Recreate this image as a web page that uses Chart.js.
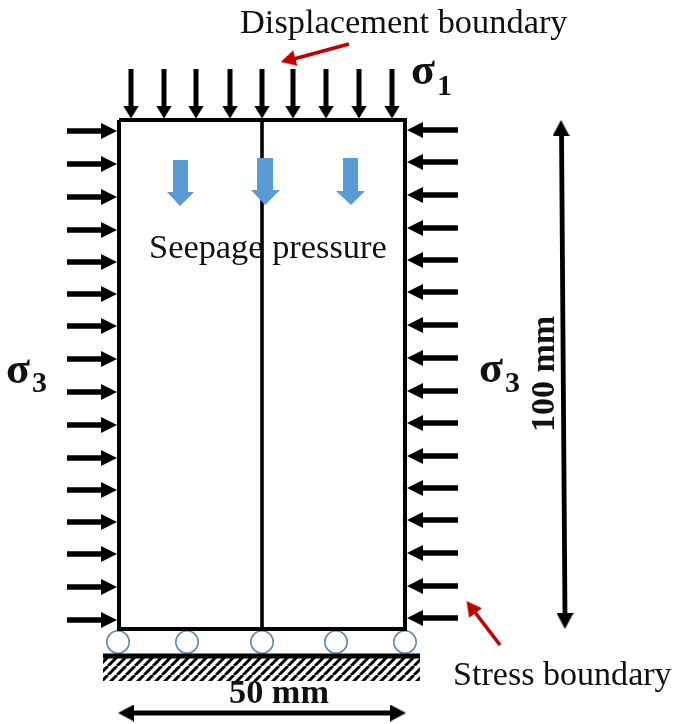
<!DOCTYPE html>
<html>
<head>
<meta charset="utf-8">
<title>Boundary conditions</title>
<script src="https://cdn.jsdelivr.net/npm/chart.js@4"></script>
<style>
  html, body { margin: 0; padding: 0; background: #fff; }
  canvas { display: block; filter: blur(0.45px); }
</style>
</head>
<body>
<canvas id="esquema" width="685" height="724"></canvas>
<script>
// Coordenadas (escala 0-685 / 0-724)
const topArrowX = [131, 164, 196, 230, 262, 293, 326, 359, 392];
const leftArrowY = [131, 164, 197, 230, 262, 294, 326, 359, 392, 425, 458, 490, 522, 554, 587, 620];
const rightArrowY = [130, 162, 195, 228, 260, 292, 325, 358, 391, 423, 456, 488, 520, 553, 586, 618];
const rollerX = [118, 187, 262, 336, 405];
const rollerY = [642, 642, 642, 642, 642];

const boxX = [119, 405, 405, 119, 119];
const boxY = [120, 120, 629, 629, 120];
const crackX = [262, 262];
const crackY = [120, 629];
const groundX = [103, 420];
const groundY = [656, 656];

const seepageLeftX = [173, 188, 188, 194, 180, 167, 173, 173];
const seepageLeftY = [160, 160, 192, 192, 206, 192, 192, 160];
const seepageMidX = [257, 273, 273, 280, 265, 251, 257, 257];
const seepageMidY = [158, 158, 190, 190, 205, 190, 190, 158];
const seepageRightX = [343, 358, 358, 365, 351, 336, 343, 343];
const seepageRightY = [158, 158, 191, 191, 205, 191, 191, 158];

const redTopX = [349, 290];
const redTopY = [44, 60];
const redBottomX = [500, 474];
const redBottomY = [645, 611];
const redHeadX = [288, 471];
const redHeadY = [60, 607];
const redHeadRot = [255, -37];

const dimVerticalX = [561.5, 565];
const dimVerticalY = [130, 617];
const dimHorizontalX = [128, 396];
const dimHorizontalY = [713, 713];

const labelText = ['Displacement boundary', 'Seepage pressure', 'Stress boundary', '50 mm', '100 mm',
    'σ', '1', 'σ', '3', 'σ', '3'];
const labelX = [240, 149, 453, 229, 554, 411, 437, 6, 32, 479, 505];
const labelY = [33, 258, 685, 703, 432, 84, 95, 383, 392, 382, 392];
const labelFont = ['34.4px', '34.4px', '34.1px', 'bold 34.3px', 'bold 34px', 'bold 44px', 'bold 30px',
    'bold 44px', 'bold 30px', 'bold 44px', 'bold 30px'];
const labelRot = [0, 0, 0, 0, -90, 0, 0, 0, 0, 0, 0];

const negro = '#000000';
const azul = '#5b9bd5';
const rojo = '#c00000';

// Punta de flecha (apunta hacia arriba con rotacion 0)
function crearPunta(ancho, largo, color) {
    const c = document.createElement('canvas');
    c.width = ancho;
    c.height = largo;
    const g = c.getContext('2d');
    g.fillStyle = color;
    g.beginPath();
    g.moveTo(ancho / 2, 0);
    g.lineTo(ancho, largo);
    g.lineTo(0, largo);
    g.closePath();
    g.fill();
    return c;
}

// Rayado del suelo
function crearRayado() {
    const c = document.createElement('canvas');
    c.width = 9;
    c.height = 9;
    const g = c.getContext('2d');
    g.fillStyle = '#fff';
    g.fillRect(0, 0, 9, 9);
    g.strokeStyle = '#000';
    g.lineWidth = 3;
    g.beginPath();
    for (let i = -9; i <= 18; i += 9) {
        g.moveTo(i, 9);
        g.lineTo(i + 9, 0);
    }
    g.stroke();
    return g.createPattern(c, 'repeat');
}

function puntos(xs, ys) {
    return xs.map((x, i) => ({ x: x, y: ys[i] }));
}

// Segmentos sueltos separados por huecos
function segmentos(lista) {
    const datos = [];
    lista.forEach(s => {
        datos.push({ x: s[0], y: s[1] }, { x: s[2], y: s[3] }, { x: null, y: null });
    });
    return datos;
}

function linea(datos, color, grosor) {
    return { data: datos, showLine: true, borderColor: color, borderWidth: grosor, pointRadius: 0, clip: false, borderCapStyle: 'butt' };
}

function puntas(datos, imagen, rotacion) {
    return { data: datos, showLine: false, pointStyle: imagen, pointRadius: 5, pointRotation: rotacion, clip: false };
}

function flechaAzul(xs, ys) {
    return { data: puntos(xs, ys), showLine: true, fill: 'shape', backgroundColor: azul, borderColor: azul, borderWidth: 0, pointRadius: 0, clip: false };
}

const puntaH = crearPunta(16, 16, negro);
const puntaV = crearPunta(16, 13, negro);
const puntaDim = crearPunta(17, 16, negro);
const puntaRoja = crearPunta(16, 15, rojo);

// Los primeros datasets quedan encima
const datasets = [
    flechaAzul(seepageLeftX, seepageLeftY),
    flechaAzul(seepageMidX, seepageMidY),
    flechaAzul(seepageRightX, seepageRightY),

    puntas(topArrowX.map(x => ({ x: x, y: 112 })), puntaV, 180),
    linea(segmentos(topArrowX.map(x => [x, 69, x, 108])), negro, 5),

    puntas(leftArrowY.map(y => ({ x: 109, y: y })), puntaH, 90),
    linea(segmentos(leftArrowY.map(y => [67, y, 104, y])), negro, 5.4),

    puntas(rightArrowY.map(y => ({ x: 415, y: y })), puntaH, 270),
    linea(segmentos(rightArrowY.map(y => [421, y, 458, y])), negro, 5.4),

    linea(puntos(boxX, boxY), negro, 4),
    linea(puntos(crackX, crackY), negro, 3.6),

    linea(puntos(groundX, groundY), negro, 5),
    {
        data: puntos(groundX, [658, 658]),
        showLine: true, borderWidth: 0, pointRadius: 0, clip: false,
        fill: { value: 681 }, backgroundColor: crearRayado()
    },

    {
        data: puntos(rollerX, rollerY),
        showLine: false, pointStyle: 'circle', pointRadius: 11.2, pointBorderWidth: 1.6,
        pointBorderColor: '#5f8db5', pointBackgroundColor: 'rgba(255,255,255,0)', clip: false
    },

    puntas(puntos(redHeadX, redHeadY), puntaRoja, redHeadRot),
    linea(puntos(redTopX, redTopY), rojo, 3.6),
    linea(puntos(redBottomX, redBottomY), rojo, 3.6),

    puntas([{ x: 561, y: 128 }, { x: 565, y: 621 }], puntaDim, [0, 180]),
    linea(puntos(dimVerticalX, dimVerticalY), negro, 4.8),
    puntas([{ x: 126, y: 713 }, { x: 398, y: 713 }], puntaDim, [270, 90]),
    linea(puntos(dimHorizontalX, dimHorizontalY), negro, 4.8)
];

// Textos de la figura
const etiquetas = {
    id: 'etiquetas',
    afterDatasetsDraw(chart) {
        const ctx = chart.ctx;
        ctx.save();
        ctx.fillStyle = '#111';
        ctx.textBaseline = 'alphabetic';
        ctx.textAlign = 'left';
        labelText.forEach((t, i) => {
            ctx.save();
            ctx.translate(chart.scales.x.getPixelForValue(labelX[i]), chart.scales.y.getPixelForValue(labelY[i]));
            ctx.rotate(labelRot[i] * Math.PI / 180);
            ctx.font = labelFont[i] + ' "Liberation Serif"';
            ctx.fillText(t, 0, 0);
            ctx.restore();
        });
        ctx.restore();
    }
};

new Chart(document.getElementById('esquema').getContext('2d'), {
    type: 'scatter',
    data: { datasets: datasets },
    plugins: [etiquetas],
    options: {
        responsive: false,
        animation: false,
        layout: { padding: 0, autoPadding: false },
        plugins: { legend: { display: false }, tooltip: { enabled: false } },
        scales: {
            x: { type: 'linear', min: 0, max: 685, display: false },
            y: { type: 'linear', min: 0, max: 724, reverse: true, display: false }
        }
    }
});
</script>
</body>
</html>
